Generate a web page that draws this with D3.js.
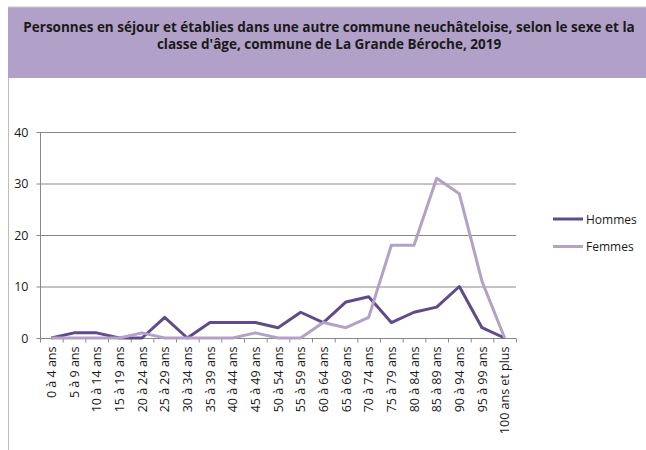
<!DOCTYPE html>
<html>
<head>
<meta charset="utf-8">
<script src="https://cdn.jsdelivr.net/npm/d3@7"></script>
<style>
  body { margin: 0; background: #fff; }
  text { font-family: "Open Sans", "Liberation Sans", sans-serif; }
</style>
</head>
<body>
<svg id="chart" width="646" height="450"></svg>
<script>
var ageClasses = ["0 à 4 ans", "5 à 9 ans", "10 à 14 ans", "15 à 19 ans", "20 à 24 ans",
  "25 à 29 ans", "30 à 34 ans", "35 à 39 ans", "40 à 44 ans", "45 à 49 ans",
  "50 à 54 ans", "55 à 59 ans", "60 à 64 ans", "65 à 69 ans", "70 à 74 ans",
  "75 à 79 ans", "80 à 84 ans", "85 à 89 ans", "90 à 94 ans", "95 à 99 ans",
  "100 ans et plus"];
var hommes = [0, 1, 1, 0, 0, 4, 0, 3, 3, 3, 2, 5, 3, 7, 8, 3, 5, 6, 10, 2, 0];
var femmes = [0, 0, 0, 0, 1, 0, 0, 0, 0, 1, 0, 0, 3, 2, 4, 18, 18, 31, 28, 11, 0];
var yTicks = [0, 10, 20, 30, 40];
var seriesNames = ["Hommes", "Femmes"];
var colors = ["#5f4b8b", "#b3a2c7"];

var svg = d3.select("#chart");

// title box
svg.append("rect")
  .attr("x", 8).attr("y", 7)
  .attr("width", 640).attr("height", 71)
  .attr("fill", "#b1a0c7");
svg.append("line")
  .attr("x1", 8).attr("x2", 646).attr("y1", 7).attr("y2", 7)
  .attr("stroke", "#c8c8c8");
svg.append("line")
  .attr("x1", 8.5).attr("x2", 8.5).attr("y1", 78).attr("y2", 450)
  .attr("stroke", "#bdbdbd");

var title = svg.append("text")
  .attr("text-anchor", "middle")
  .attr("font-size", "13.5px")
  .attr("font-weight", "bold")
  .attr("fill", "#1a1a1a");
title.append("tspan").attr("x", 329).attr("y", 32)
  .text("Personnes en séjour et établies dans une autre commune neuchâteloise, selon le sexe et la");
title.append("tspan").attr("x", 329).attr("y", 49)
  .text("classe d'âge, commune de La Grande Béroche, 2019");

var plotLeft = 40, plotRight = 516, plotTop = 132, plotBottom = 338;

var x = d3.scaleBand().domain(ageClasses).range([plotLeft, plotRight]);
var y = d3.scaleLinear().domain([0, 40]).range([plotBottom, plotTop]);

// grid
svg.append("g").selectAll("line")
  .data(yTicks.slice(1))
  .enter().append("line")
  .attr("x1", plotLeft).attr("x2", plotRight)
  .attr("y1", d => y(d) + 0.5).attr("y2", d => y(d) + 0.5)
  .attr("stroke", "#888");

// y axis
var yAxis = d3.axisLeft(y).tickValues(yTicks).tickSize(4).tickPadding(8);
var yG = svg.append("g").attr("transform", "translate(" + (plotLeft + 0.5) + ",0)").call(yAxis);
yG.select(".domain").attr("stroke", "#888").attr("d", "M0," + plotTop + "V" + plotBottom);
yG.selectAll(".tick line").attr("stroke", "#888");
yG.selectAll("text").attr("font-size", "12.5px").attr("fill", "#1a1a1a")
  .attr("font-family", "'Open Sans', sans-serif");

// x axis
var xG = svg.append("g").attr("transform", "translate(0," + (plotBottom + 0.5) + ")");
xG.append("line").attr("x1", plotLeft).attr("x2", plotRight).attr("stroke", "#888");
xG.selectAll("line.tk")
  .data(ageClasses.concat(["end"]))
  .enter().append("line")
  .attr("class", "tk")
  .attr("x1", (d, i) => plotLeft + i * x.step() + 0.5)
  .attr("x2", (d, i) => plotLeft + i * x.step() + 0.5)
  .attr("y1", 0).attr("y2", 4)
  .attr("stroke", "#888");
xG.selectAll("text")
  .data(ageClasses)
  .enter().append("text")
  .attr("transform", d => "translate(" + (x(d) + x.bandwidth() / 2 + 4.5) + ",8) rotate(-90)")
  .attr("text-anchor", "end")
  .attr("font-size", "12.5px")
  .attr("fill", "#1a1a1a")
  .text(d => d);

// lines
var line = d3.line()
  .x((d, i) => x(ageClasses[i]) + x.bandwidth() / 2)
  .y(d => y(d));

[hommes, femmes].forEach(function(s, k) {
  svg.append("path")
    .datum(s)
    .attr("d", line)
    .attr("fill", "none")
    .attr("stroke", colors[k])
    .attr("stroke-width", 3)
    .attr("stroke-linejoin", "round");
});

// legend
var legend = svg.append("g");
seriesNames.forEach(function(n, k) {
  var ly = 219 + k * 27.5;
  legend.append("line")
    .attr("x1", 553).attr("x2", 583)
    .attr("y1", ly).attr("y2", ly)
    .attr("stroke", colors[k]).attr("stroke-width", 3);
  legend.append("text")
    .attr("x", 586).attr("y", ly + 4.5)
    .attr("font-size", "12px").attr("fill", "#1a1a1a")
    .text(n);
});
</script>
</body>
</html>
